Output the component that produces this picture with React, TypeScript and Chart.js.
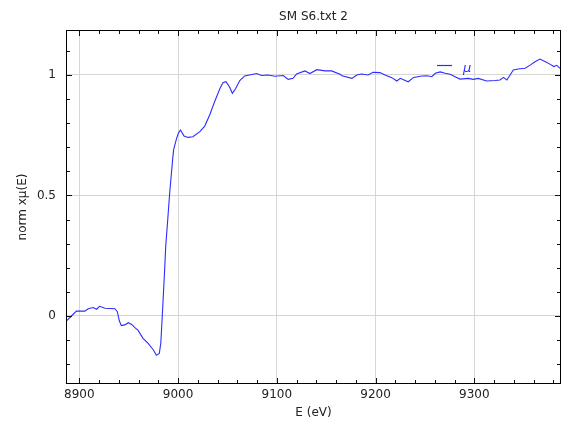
import React, { useEffect, useRef } from 'react';
import { Chart, registerables } from 'chart.js';

Chart.register(...registerables);

const TITLE = 'SM S6.txt 2';
const X_LABEL = 'E (eV)';
const Y_LABEL = 'norm xμ(E)';
const SERIES_LABEL = 'μ';

const X_MIN = 8886.5;
const X_MAX = 9387.8;
const Y_MIN = -0.2822;
const Y_MAX = 1.1867;
const X_STEP = 20;
const Y_STEP = 0.1;

const energy = [
  8887, 8892, 8897, 8905.5, 8909, 8914, 8917.5, 8920.5, 8926, 8931, 8936, 8938.5, 8940.5, 8942.5,
  8946, 8949.5, 8953, 8956, 8959.5, 8964.5, 8969.5, 8975, 8978, 8981, 8982.5, 8984, 8985, 8986.5,
  8987.5, 8989, 8991.5, 8994.5, 8995.5, 8998.5, 9000.5, 9002.5, 9006, 9010, 9015, 9022, 9027, 9032, 9037,
  9042.5, 9045.5, 9048.5, 9052, 9055, 9058.5, 9062.5, 9067.5, 9079.5, 9084.5, 9091, 9098, 9106.5,
  9111.5, 9116.5, 9120, 9128.5, 9133.5, 9140.5, 9149, 9155.5, 9164, 9166, 9176, 9181, 9186, 9192.5,
  9197.5, 9204.5, 9209.5, 9216.5, 9221.5, 9225, 9233, 9238.5, 9247, 9252, 9257, 9260.5, 9265.5,
  9270.5, 9275.5, 9282, 9285.5, 9294, 9299, 9304, 9312.5, 9321, 9326, 9329.5, 9333, 9339.5, 9344.5,
  9351.5, 9356.5, 9361.5, 9366.5, 9372, 9377, 9380.5, 9383.5, 9387.5,
];

const mu = [
  -0.02, 0.0, 0.02, 0.02, 0.03, 0.035, 0.028, 0.04, 0.032, 0.031, 0.03, 0.018, -0.02, -0.04,
  -0.037, -0.028, -0.035, -0.047, -0.06, -0.093, -0.113, -0.141, -0.163, -0.155, -0.113, 0.0, 0.08, 0.2,
  0.29, 0.37, 0.51, 0.65, 0.69, 0.737, 0.76, 0.772, 0.747, 0.741, 0.744, 0.765, 0.788, 0.834, 0.889,
  0.945, 0.968, 0.972, 0.951, 0.924, 0.945, 0.977, 0.996, 1.006, 0.998, 1.0, 0.995, 0.998,
  0.982, 0.986, 1.004, 1.017, 1.006, 1.022, 1.017, 1.017, 1.003, 0.997, 0.986, 1.0, 1.004, 1.0,
  1.011, 1.01, 1.0, 0.989, 0.975, 0.986, 0.972, 0.99, 0.996, 0.997, 0.993, 1.007, 1.013,
  1.007, 1.003, 0.99, 0.983, 0.986, 0.982, 0.986, 0.975, 0.977, 0.979, 0.99, 0.979, 1.021, 1.025,
  1.028, 1.041, 1.055, 1.066, 1.055, 1.044, 1.035, 1.04, 1.025,
];

const LINE_COLOR = 'rgb(45,45,255)';
const TEXT_COLOR = '#222';
const GRID_COLOR = '#d6d6d6';
const FONT = 'DejaVu Sans';

const isMajorX = (v: number) => Math.abs(v / 100 - Math.round(v / 100)) < 1e-6;
const isMajorY = (v: number) => Math.abs(v * 2 - Math.round(v * 2)) < 1e-6;

const framePlugin = {
  id: 'frameTicks',
  afterDatasetsDraw(chart: any) {
    const { ctx, chartArea: a, scales } = chart;
    ctx.save();
    ctx.strokeStyle = '#111';
    ctx.lineWidth = 1;
    const xs = scales.x;
    const ys = scales.y;
    ctx.beginPath();
    for (const t of xs.ticks) {
      const p = Math.round(xs.getPixelForValue(t.value)) + 0.5;
      const len = isMajorX(t.value) ? 6 : 4;
      ctx.moveTo(p, a.bottom);
      ctx.lineTo(p, a.bottom - len);
      ctx.moveTo(p, a.top);
      ctx.lineTo(p, a.top + len);
    }
    for (const t of ys.ticks) {
      const p = Math.round(ys.getPixelForValue(t.value)) + 0.5;
      const len = isMajorY(t.value) ? 6 : 4;
      ctx.moveTo(a.left, p);
      ctx.lineTo(a.left + len, p);
      ctx.moveTo(a.right, p);
      ctx.lineTo(a.right - len, p);
    }
    ctx.stroke();
    ctx.strokeStyle = '#000';
    ctx.strokeRect(a.left + 0.5, a.top + 0.5, a.right - a.left - 1, a.bottom - a.top - 1);

    // legend
    const ds = chart.data.datasets[0];
    const lx = a.right - 124;
    const ly = a.top + 35.5;
    ctx.strokeStyle = LINE_COLOR;
    ctx.lineWidth = 1.2;
    ctx.beginPath();
    ctx.moveTo(lx, ly);
    ctx.lineTo(lx + 15, ly);
    ctx.stroke();
    ctx.fillStyle = LINE_COLOR;
    ctx.font = `italic 13px ${FONT}`;
    ctx.textBaseline = 'alphabetic';
    ctx.textAlign = 'left';
    ctx.fillText(ds.label, lx + 26, ly + 6);
    ctx.restore();
  },
};

export default function App() {
  const ref = useRef<HTMLCanvasElement | null>(null);

  useEffect(() => {
    if (!ref.current) return;
    const points = energy.map((e, i) => ({ x: e, y: mu[i] }));
    const chart = new Chart(ref.current, {
      type: 'line',
      data: {
        datasets: [
          {
            label: SERIES_LABEL,
            data: points,
            borderColor: LINE_COLOR,
            borderWidth: 1.1,
            pointRadius: 0,
            tension: 0,
            fill: false,
          },
        ],
      },
      options: {
        responsive: false,
        animation: false,
        devicePixelRatio: 1,
        layout: { padding: { left: 0, right: 7, top: 0, bottom: 0 } },
        plugins: {
          legend: { display: false },
          tooltip: { enabled: false },
          title: {
            display: true,
            text: TITLE,
            fullSize: false,
            color: TEXT_COLOR,
            font: { family: FONT, size: 12, weight: 'normal', lineHeight: 1.2 },
            padding: { top: 10, bottom: 5.6 },
          },
        },
        scales: {
          x: {
            type: 'linear',
            min: X_MIN,
            max: X_MAX,
            afterFit: (s: any) => {
              s.height = 50;
            },
            border: { display: false },
            grid: {
              drawTicks: false,
              color: (c: any) => (c.tick && isMajorX(c.tick.value) ? GRID_COLOR : 'rgba(0,0,0,0)'),
              lineWidth: 1,
            },
            ticks: {
              stepSize: X_STEP,
              includeBounds: false,
              autoSkip: false,
              maxRotation: 0,
              padding: 4,
              color: TEXT_COLOR,
              font: { family: FONT, size: 12 },
              callback: (v: any) => (isMajorX(Number(v)) ? String(Math.round(Number(v))) : ''),
            },
            title: {
              display: true,
              text: X_LABEL,
              color: TEXT_COLOR,
              font: { family: FONT, size: 12, lineHeight: 1.2 },
              padding: { top: 0, bottom: 14 },
            },
          },
          y: {
            type: 'linear',
            min: Y_MIN,
            max: Y_MAX,
            afterFit: (s: any) => {
              s.width = 66;
            },
            border: { display: false },
            grid: {
              drawTicks: false,
              color: (c: any) => (c.tick && isMajorY(c.tick.value) ? GRID_COLOR : 'rgba(0,0,0,0)'),
              lineWidth: 1,
            },
            ticks: {
              stepSize: Y_STEP,
              includeBounds: false,
              autoSkip: false,
              maxTicksLimit: 100,
              padding: 10,
              color: TEXT_COLOR,
              font: { family: FONT, size: 12 },
              callback: (v: any) => {
                const n = Number(v);
                if (!isMajorY(n)) return '';
                const r = Math.round(n * 2) / 2;
                return String(r);
              },
            },
            title: {
              display: true,
              text: Y_LABEL,
              color: TEXT_COLOR,
              font: { family: FONT, size: 12, lineHeight: 1.2 },
              padding: { top: 16, bottom: 0 },
            },
          },
        },
      },
      plugins: [framePlugin],
    } as any);
    return () => chart.destroy();
  }, []);

  return (
    <div style={{ position: 'absolute', left: 0, top: 0, width: 568, height: 434, background: '#fff' }}>
      <canvas ref={ref} width={568} height={434} style={{ display: 'block' }} />
    </div>
  );
}
